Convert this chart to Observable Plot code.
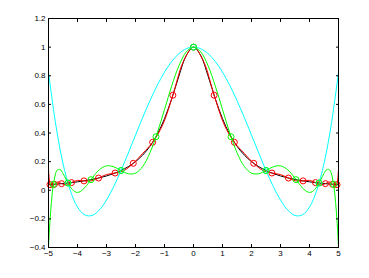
<!DOCTYPE html>
<html><head><meta charset="utf-8">
<script src="https://cdn.jsdelivr.net/npm/d3@7"></script>
<script src="https://cdn.jsdelivr.net/npm/@observablehq/plot@0.6"></script>
<style>body{margin:0;background:#fff} svg{display:block}</style>
</head><body><div id="chart"></div>
<script>
// Axis ticks and labels
const xTicks = [-5,-4,-3,-2,-1,0,1,2,3,4,5];
const xTickLabels = ["−5","−4","−3","−2","−1","0","1","2","3","4","5"];
const yTicks = [-0.4,-0.2,0,0.2,0.4,0.6,0.8,1,1.2];
const yTickLabels = ["−0.4","−0.2","0","0.2","0.4","0.6","0.8","1","1.2"];

// Black curve (true function) samples
const blackX = [-5,-4.75,-4.5,-4.25,-4,-3.75,-3.5,-3.25,-3,-2.75,-2.5,-2.25,-2,-1.75,-1.5,-1.25,-1,-0.75,-0.5,-0.25,0,0.25,0.5,0.75,1,1.25,1.5,1.75,2,2.25,2.5,2.75,3,3.25,3.5,3.75,4,4.25,4.5,4.75,5];
const blackY = [0.0385,0.0425,0.0471,0.0525,0.0588,0.0664,0.0755,0.0865,0.1,0.1168,0.1379,0.1649,0.2,0.2462,0.3077,0.3902,0.5,0.64,0.8,0.9412,1,0.9412,0.8,0.64,0.5,0.3902,0.3077,0.2462,0.2,0.1649,0.1379,0.1168,0.1,0.0865,0.0755,0.0664,0.0588,0.0525,0.0471,0.0425,0.0385];

// Red curve samples
const redX = [-5,-4.975,-4.949,-4.87,-4.797,-4.67,-4.548,-4.38,-4.206,-4,-3.779,-3.5,-3.274,-3,-2.703,-2.39,-2.077,-1.75,-1.409,-1.06,-0.712,-0.35,0,0.35,0.712,1.06,1.409,1.75,2.077,2.39,2.703,3,3.274,3.5,3.779,4,4.206,4.38,4.548,4.67,4.797,4.87,4.949,4.975,5];
const redY = [0.1475,0.0791,0.0392,0.0191,0.0416,0.0584,0.0461,0.038,0.0535,0.0689,0.0655,0.0662,0.0853,0.1097,0.1204,0.1385,0.1882,0.258,0.3351,0.4577,0.6639,0.8989,1,0.8989,0.6639,0.4577,0.3351,0.258,0.1882,0.1385,0.1204,0.1097,0.0853,0.0662,0.0655,0.0689,0.0535,0.038,0.0461,0.0584,0.0416,0.0191,0.0392,0.0791,0.1475];
const redNodeX = [-4.949,-4.797,-4.548,-4.206,-3.779,-3.274,-2.703,-2.077,-1.409,-0.712,0,0.712,1.409,2.077,2.703,3.274,3.779,4.206,4.548,4.797,4.949];
const redNodeY = [0.0392,0.0416,0.0461,0.0535,0.0655,0.0853,0.1204,0.1882,0.3351,0.6639,1,0.6639,0.3351,0.1882,0.1204,0.0853,0.0655,0.0535,0.0461,0.0416,0.0392];

// Cyan curve samples
const cyanX = [-5,-4.75,-4.5,-4.25,-4,-3.75,-3.5,-3.25,-3,-2.75,-2.5,-2.25,-2,-1.75,-1.5,-1.25,-1,-0.75,-0.5,-0.25,0,0.25,0.5,0.75,1,1.25,1.5,1.75,2,2.25,2.5,2.75,3,3.25,3.5,3.75,4,4.25,4.5,4.75,5];
const cyanY = [0.8254,0.4583,0.1868,-0.0013,-0.1174,-0.1724,-0.1764,-0.1388,-0.0685,0.0262,0.1379,0.2597,0.3854,0.5094,0.6268,0.7333,0.8254,0.9001,0.955,0.9887,1,0.9887,0.955,0.9001,0.8254,0.7333,0.6268,0.5094,0.3854,0.2597,0.1379,0.0262,-0.0685,-0.1388,-0.1764,-0.1724,-0.1174,-0.0013,0.1868,0.4583,0.8254];
const cyanNodeX = [-4.330,-2.5,0,2.5,4.330];
const cyanNodeY = [0.0506,0.1379,1,0.1379,0.0506];

// Green curve samples
const greenX = [-5,-4.95,-4.9,-4.83,-4.7,-4.6,-4.5,-4.4,-4.33,-4.25,-4.1,-4,-3.9,-3.75,-3.5,-3.25,-3,-2.75,-2.5,-2.25,-2,-1.75,-1.5,-1.25,-1,-0.75,-0.5,-0.25,0,0.25,0.5,0.75,1,1.25,1.5,1.75,2,2.25,2.5,2.75,3,3.25,3.5,3.75,3.9,4,4.1,4.25,4.33,4.4,4.5,4.6,4.7,4.83,4.9,4.95,5];
const greenY = [-0.399,-0.2195,-0.0855,0.0411,0.1406,0.1448,0.1175,0.0782,0.0506,0.0231,-0.0092,-0.0149,-0.0088,0.0177,0.0839,0.1429,0.1705,0.164,0.1379,0.1153,0.1194,0.1666,0.2625,0.4007,0.5642,0.7295,0.8711,0.9664,1,0.9664,0.8711,0.7295,0.5642,0.4007,0.2625,0.1666,0.1194,0.1153,0.1379,0.164,0.1705,0.1429,0.0839,0.0177,-0.0088,-0.0149,-0.0092,0.0231,0.0506,0.0782,0.1175,0.1448,0.1406,0.0411,-0.0855,-0.2195,-0.399];
const greenNodeX = [-4.830,-4.330,-3.536,-2.5,-1.294,0,1.294,2.5,3.536,4.330,4.830];
const greenNodeY = [0.0411,0.0506,0.0741,0.1379,0.3739,1,0.3739,0.1379,0.0741,0.0506,0.0411];

const zip = (xs, ys) => xs.map((x, i) => ({x, y: ys[i]}));

const chart = Plot.plot({
  width: 369,
  height: 278,
  marginLeft: 48,
  marginRight: 31,
  marginTop: 18,
  marginBottom: 31,
  style: {fontSize: "8px", fontFamily: "'Liberation Sans', Arial, Helvetica, sans-serif", background: "#fff", color: "#000"},
  x: {domain: [-5, 5]},
  y: {domain: [-0.4, 1.2]},
  marks: [
    Plot.line(zip(blackX, blackY), {x: "x", y: "y", stroke: "#000", strokeWidth: 1, curve: "catmull-rom", clip: true}),
    Plot.line(zip(redX, redY), {x: "x", y: "y", stroke: "#ff0000", strokeWidth: 1, curve: "catmull-rom", clip: true}),
    Plot.dot(zip(redNodeX, redNodeY), {x: "x", y: "y", r: 3, stroke: "#ff0000", strokeWidth: 1}),
    Plot.line(zip(cyanX, cyanY), {x: "x", y: "y", stroke: "#00ffff", strokeWidth: 1, curve: "catmull-rom", clip: true}),
    Plot.line(zip(greenX, greenY), {x: "x", y: "y", stroke: "#00ff00", strokeWidth: 1, curve: "catmull-rom", clip: true}),
    Plot.dot(zip(cyanNodeX, cyanNodeY), {x: "x", y: "y", r: 3, stroke: "#00ffff", strokeWidth: 1}),
    Plot.dot(zip(greenNodeX, greenNodeY), {x: "x", y: "y", r: 3, stroke: "#00ff00", strokeWidth: 1}),
    Plot.frame({stroke: "#000", strokeWidth: 1}),
    Plot.axisX(xTicks, {anchor: "bottom", tickSize: -3, tickPadding: 6, tickFormat: (d, i) => xTickLabels[i], label: null}),
    Plot.axisX(xTicks, {anchor: "top", tickSize: -3, tickFormat: () => "", label: null}),
    Plot.axisY(yTicks, {anchor: "left", tickSize: -3, tickPadding: 6, tickFormat: (d, i) => yTickLabels[i], label: null}),
    Plot.axisY(yTicks, {anchor: "right", tickSize: -3, tickFormat: () => "", label: null})
  ]
});
document.getElementById("chart").appendChild(chart);
</script>
</body></html>
